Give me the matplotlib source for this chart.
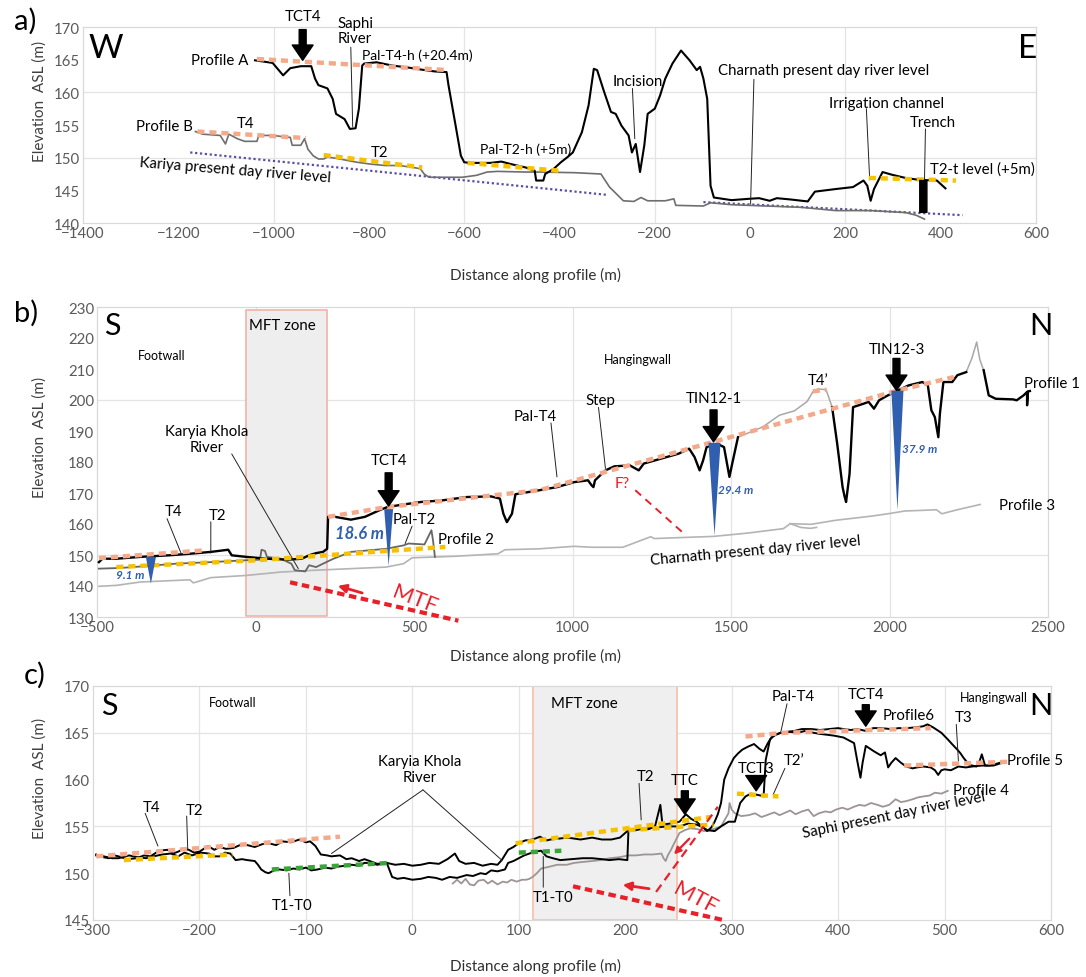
import numpy as np
import matplotlib.pyplot as plt

plt.rcParams['font.family'] = ['Lato', 'DejaVu Sans']

W, H = 1086, 978
FS = 10.8

SALMON = '#f5a98b'
YELLOW = '#f6c200'
GREEN = '#3aa63a'
RED = '#e8202a'
BLUE = '#2f5fae'
PURPLE = '#5a4ea6'

# ---------------------------------------------------------------- panel a data
a_profA_x = [-1039, -1002, -980, -965, -943, -921, -913, -906, -887, -876, -869, -851, -840, -828,
             -821, -814, -810, -784, -751, -718, -692, -662, -637, -633, -618, -607, -600, -589,
             -545, -522, -501, -471, -452, -449, -434, -430, -412, -397, -383, -372, -353, -339,
             -328, -321, -306, -292, -282, -270, -255, -248, -240, -231, -222, -215, -200, -189,
             -178, -163, -145, -127, -112, -105, -98, -90, -83, -76, -39, -3, 19, 41, 56, 85, 121,
             136, 180, 216, 238, 246, 253, 260, 278, 297, 326, 355, 392, 410]
a_profA_y = [164.9, 164.5, 162.6, 163.7, 164.0, 164.0, 162.1, 161.1, 160.6, 159.0, 156.7, 155.9, 154.4,
             154.5, 157.5, 164.1, 164.4, 164.6, 164.1, 163.8, 163.5, 163.2, 163.1, 161.1, 154.9, 150.3,
             149.3, 149.2, 149.2, 149.4, 149.0, 148.5, 148.0, 146.5, 146.5, 147.5, 148.3, 149.3, 150.1,
             150.8, 153.9, 158.0, 163.6, 163.4, 160.0, 157.0, 156.7, 154.9, 153.4, 150.8, 152.1, 147.8,
             151.9, 156.7, 157.5, 159.5, 162.1, 164.4, 166.4, 164.9, 163.4, 163.9, 162.1, 159.0, 145.7,
             143.9, 143.5, 143.7, 143.8, 143.4, 143.8, 143.6, 143.3, 144.8, 145.2, 145.5, 146.5, 145.7,
             143.4, 145.2, 147.8, 147.4, 146.9, 146.6, 146.5, 145.3]

a_profB_x = [-1164, -1149, -1112, -1101, -1094, -1076, -1061, -1035, -1031, -1002, -965, -961, -943,
             -935, -928, -917, -906, -895, -887, -869, -847, -825, -795, -766, -736, -707, -692, -684,
             -674, -633, -604, -574, -552, -530, -471, -441, -368, -313, -295, -266, -244, -229, -215,
             -178, -160, -156, -98, -83, -39, 34, 107, 180, 253, 326, 348, 366]
a_profB_y = [154.0, 153.6, 153.4, 152.1, 153.6, 152.9, 152.5, 152.5, 153.4, 153.4, 153.1, 151.9, 151.9,
             152.9, 151.3, 150.3, 149.8, 149.8, 150.1, 149.9, 149.6, 149.3, 149.0, 148.8, 148.8, 148.5,
             148.3, 147.5, 147.0, 147.0, 147.0, 147.3, 147.8, 147.9, 147.8, 147.8, 147.7, 147.5, 145.5,
             143.4, 143.3, 143.9, 143.4, 143.4, 143.7, 142.7, 142.6, 143.1, 142.8, 142.6, 142.4, 141.9,
             141.9, 141.6, 141.2, 140.6]

a_river_x = [[-1175, -299], [-98, 446]]
a_river_y = [[150.8, 144.3], [143.2, 141.2]]

a_salmon_x = [[-1035, -633], [-1160, -932]]
a_salmon_y = [[165.1, 163.4], [154.0, 153.0]]
a_yellow_x = [[-895, -688], [-593, -401], [249, 432]]
a_yellow_y = [[150.4, 148.5], [149.2, 148.0], [146.9, 146.5]]

a_trench_x = [355, 370]
a_trench_top = [146.6, 146.5]
a_trench_bot = [141.7, 141.7]

# ---------------------------------------------------------------- panel b data
b_p1_black_x = [[-494, -483, -439, -362, -273, -207, -141, -86, -75, -30, 36, 102, 146, 169, 191, 213,
                 226, 229, 240, 301, 345, 390, 417, 467, 522, 588, 666, 743, 771, 782, 793, 809, 820,
                 896, 951, 1005, 1049, 1060, 1066, 1071, 1104, 1132, 1181, 1209, 1225, 1280, 1335,
                 1368, 1385, 1401, 1412, 1423, 1456, 1478, 1495, 1506, 1522],
                [1819, 1835, 1852, 1858, 1863, 1874, 1885, 1918, 1934, 1951, 1967, 1995, 2027, 2060,
                 2104, 2121, 2132, 2143, 2154, 2159, 2170, 2198, 2214, 2242],
                [2297, 2313, 2335, 2390, 2401, 2423, 2434, 2434, 2437, 2443]]
b_p1_black_y = [[147.7, 148.8, 148.8, 149.4, 149.9, 150.4, 151.0, 151.7, 149.9, 149.4, 148.8, 148.5,
                 148.8, 149.9, 150.6, 151.0, 152.0, 162.3, 162.5, 161.4, 162.3, 164.4, 165.5, 166.3,
                 167.1, 167.6, 168.7, 168.9, 168.2, 163.3, 160.6, 163.3, 169.6, 170.9, 171.9, 173.5,
                 174.1, 172.5, 171.9, 174.1, 177.3, 178.6, 178.9, 177.3, 179.5, 181.1, 182.7, 184.3,
                 181.6, 177.3, 180.5, 184.8, 185.9, 184.8, 175.2, 180.5, 188.0],
                [197.7, 185.9, 171.9, 169.0, 167.1, 176.2, 197.7, 198.8, 199.4, 197.2, 199.9, 201.5,
                 203.1, 204.7, 205.8, 204.7, 196.7, 194.5, 188.0, 195.6, 205.8, 205.8, 208.0, 209.0],
                [209.6, 201.5, 200.4, 200.2, 199.9, 201.5, 202.6, 198.3, 202.8, 202.9]]
b_p1_grey_x = [[1522, 1600, 1653, 1700, 1740, 1758, 1775, 1800, 1819],
               [2242, 2260, 2275, 2285, 2297]]
b_p1_grey_y = [[188.0, 191.3, 195.1, 196.5, 199.5, 202.6, 203.6, 203.3, 197.7],
               [209.0, 213.5, 218.7, 213.0, 209.6]]

b_p2_x = [-494, -428, -362, -251, -141, -30, 14, 19, 30, 36, 80, 113, 124, 140, 157, 169, 191, 213,
          246, 301, 412, 467, 483, 533, 555, 560, 566]
b_p2_y = [145.6, 145.8, 146.3, 147.2, 147.7, 148.3, 148.5, 151.7, 151.3, 149.4, 148.8, 147.2, 145.1,
          144.9, 144.7, 146.7, 146.1, 147.2, 148.8, 151.0, 152.0, 153.1, 153.7, 153.4, 158.0, 154.7,
          149.4]

b_p3_x = [[-494, -439, -362, -251, -207, -196, -141, -30, 80, 191, 301, 412, 467, 494, 633, 765, 787,
           896, 1005, 1060, 1159, 1247, 1258, 1335, 1445, 1555, 1665, 1687, 1753, 1830, 1940, 1995,
           2049, 2104, 2148, 2165, 2214, 2286],
          [1687, 1720, 1750, 1770]]
b_p3_y = [[139.9, 140.2, 141.3, 141.8, 142.0, 141.0, 142.7, 143.4, 144.5, 145.1, 145.6, 146.1, 147.2,
           149.1, 149.6, 150.4, 151.7, 152.0, 152.8, 152.5, 152.5, 155.9, 155.3, 155.6, 156.0, 157.1,
           158.5, 160.1, 159.9, 161.2, 162.5, 163.3, 164.2, 164.4, 164.6, 163.3, 164.6, 166.3],
          [160.1, 158.9, 158.6, 158.9]]

b_salmon_x = [[-494, -160], [229, 417, 700, 896, 1445, 2027, 2203], [1758, 1802]]
b_salmon_y = [[149.0, 151.5], [162.3, 165.5, 168.7, 170.9, 186.5, 203.1, 207.4], [202.8, 203.3]]
b_yellow_x = [[-439, 3, 412, 599]]
b_yellow_y = [[146.1, 148.3, 151.3, 152.6]]

b_wedge_x = [-330, 420, 1448, 2025]
b_wedge_top = [149.4, 164.8, 186.2, 203.0]
b_wedge_bot = [140.8, 146.5, 156.3, 164.5]
b_wedge_hw = [16, 14, 19, 19]
b_wedge_lab = ['9.1 m', '18.6 m', '29.4 m', '37.9 m']

# ---------------------------------------------------------------- panel c data
c_lineA_x = [-297, -290, -285, -280, -276, -268, -259, -252, -246, -238, -230, -225, -220, -215, -210,
             -205, -200, -192, -186, -181, -175, -168, -162, -155, -148, -141, -135, -128, -122, -114,
             -106, -100, -96, -91, -86, -80, -76, -68, -62, -57, -50, -45, -40, -33, -24, -16, -8, 0,
             8, 16, 25, 33, 40, 44, 50, 58, 66, 74, 80, 84, 90, 95, 100, 106, 113, 120, 126, 130, 138,
             146, 158, 169, 178, 187, 195, 202, 208, 215, 222, 228, 233, 235, 242, 251, 257, 262, 267,
             272, 277, 281, 284, 287, 290, 293, 297, 302, 306, 310, 315, 321, 326, 330, 334, 338, 346,
             352, 359, 366, 375, 383, 392, 400, 405, 412, 418, 426, 433, 441, 449, 457, 465, 474, 480,
             484, 489, 493, 497, 503, 507, 512, 515, 518, 523, 526, 530, 533, 535, 538, 542, 546, 552,
             557]
c_lineA_y = [152.0, 151.7, 151.6, 151.9, 151.8, 151.5, 151.6, 151.9, 151.8, 152.4, 152.5, 152.1, 152.3,
             152.6, 152.5, 152.2, 152.3, 152.9, 152.5, 152.8, 152.6, 152.7, 153.0, 153.0, 152.8, 153.1,
             153.2, 153.0, 153.4, 153.3, 153.6, 153.3, 153.4, 152.9, 152.0, 151.9, 151.8, 151.9, 151.5,
             151.6, 151.3, 151.5, 151.3, 151.0, 151.1, 150.9, 151.0, 150.8, 150.9, 151.1, 151.0, 151.5,
             152.1, 151.3, 151.0, 151.1, 150.8, 151.0, 150.9, 151.4, 152.5, 152.8, 153.2, 153.5, 153.6,
             153.9, 153.5, 153.6, 153.7, 153.8, 153.6, 153.8, 153.6, 153.6, 153.8, 154.5, 154.6, 154.8,
             154.7, 155.0, 157.3, 155.2, 155.3, 155.5, 156.3, 155.8, 155.5, 155.0, 154.5, 154.9, 155.5,
             156.3, 157.5, 160.0, 161.2, 162.3, 162.8, 163.2, 163.5, 163.8, 163.3, 163.0, 163.9, 164.6,
             165.0, 165.1, 165.2, 165.4, 165.4, 165.3, 165.4, 165.5, 165.4, 165.3, 165.4, 165.2, 165.5,
             165.5, 165.4, 165.5, 165.5, 165.6, 165.7, 165.9, 165.6, 165.3, 165.0, 164.3, 163.8, 163.2,
             162.8, 162.3, 161.6, 161.5, 161.4, 162.0, 162.7, 161.5, 161.5, 161.6, 161.8, 161.9]

c_lineB_x = [-297, -290, -282, -276, -266, -258, -250, -243, -235, -227, -220, -214, -207, -199, -191,
             -186, -181, -176, -171, -166, -160, -155, -148, -145, -142, -138, -135, -130, -125, -118,
             -112, -106, -100, -95, -89, -82, -76, -70, -63, -57, -50, -45, -40, -33, -24, -19, -14, -8,
             0, 8, 15, 22, 28, 35, 42, 51, 57, 64, 69, 74, 80, 87, 90, 95, 100, 105, 110, 115, 121, 126,
             132, 139, 150, 160, 169, 178, 185, 194, 202, 203, 210, 218, 230, 240, 251, 259, 267, 273,
             277, 284, 290, 297, 303, 308, 313, 318, 323, 327, 330, 332, 336, 341, 346, 355, 362, 369,
             377, 382, 389, 396, 405, 410, 415, 418, 421, 423, 426, 430, 434, 440, 444, 447, 450, 454,
             459, 464, 470, 474, 480, 487, 491, 494, 497, 500, 506, 513, 520, 526, 535, 546, 557]
c_lineB_y = [151.9, 151.8, 151.6, 151.6, 151.9, 151.7, 151.6, 151.8, 152.0, 152.1, 151.8, 152.2, 151.9,
             152.2, 152.1, 151.8, 151.8, 152.2, 152.1, 151.4, 151.5, 151.4, 151.3, 150.9, 150.4, 150.1,
             150.0, 150.3, 150.4, 150.3, 150.5, 150.4, 150.6, 150.3, 150.4, 150.6, 150.5, 150.7, 150.8,
             150.9, 150.8, 151.1, 151.1, 150.9, 151.1, 149.6, 149.4, 149.5, 149.3, 149.4, 149.6, 149.5,
             149.3, 149.6, 149.5, 149.8, 149.7, 150.0, 149.9, 150.3, 150.2, 150.4, 151.1, 151.3, 151.6,
             151.9, 152.1, 152.3, 152.4, 151.8, 151.6, 151.4, 151.5, 151.6, 151.6, 151.5, 151.4, 151.5,
             151.4, 154.5, 154.6, 154.8, 154.9, 155.0, 155.0, 155.3, 155.2, 154.9, 154.6, 154.5, 155.0,
             155.5, 155.5, 157.5, 158.2, 158.5, 158.4, 158.3, 158.2, 162.1, 164.3, 164.8, 165.0, 165.1,
             165.0, 165.2, 165.0, 164.9, 164.8, 164.7, 164.5, 164.2, 163.9, 162.0, 160.2, 161.8, 163.6,
             163.3, 163.0, 162.6, 162.9, 161.3, 161.8, 162.3, 161.8, 161.4, 161.2, 161.3, 161.4, 161.3,
             161.0, 160.5, 161.0, 161.1, 161.0, 161.4, 161.3, 161.4, 161.5, 161.5, 161.9]

c_p4_x = [38, 42, 46, 50, 54, 58, 62, 67, 71, 75, 80, 85, 89, 93, 98, 103, 107, 110, 113, 117, 121, 129,
          136, 145, 152, 160, 169, 177, 185, 194, 203, 210, 218, 226, 234, 236, 238, 240, 243, 246, 251,
          256, 261, 268, 274, 280, 285, 290, 294, 297, 298, 300, 303, 309, 316, 322, 328, 333, 340, 345,
          349, 355, 360, 366, 372, 377, 382, 388, 393, 398, 404, 409, 415, 420, 425, 431, 437, 442, 448,
          454, 459, 464, 470, 475, 480, 486, 491, 497, 503]
c_p4_y = [148.9, 149.3, 148.9, 149.4, 148.8, 148.7, 149.2, 149.3, 148.9, 149.2, 148.8, 149.1, 149.0,
          149.3, 149.1, 149.3, 149.3, 149.4, 149.6, 150.0, 150.5, 150.7, 150.9, 150.9, 151.1, 151.2,
          151.3, 151.4, 151.6, 151.7, 151.9, 151.9, 152.0, 152.0, 152.1, 151.6, 151.3, 151.9, 152.5,
          153.2, 154.3, 154.6, 154.8, 154.7, 154.5, 154.6, 154.8, 155.0, 155.8, 156.4, 157.5, 156.8,
          156.4, 156.1, 156.2, 156.4, 156.0, 156.2, 156.5, 156.2, 156.4, 156.7, 156.3, 156.6, 156.8,
          156.1, 156.4, 156.6, 156.5, 156.8, 157.0, 156.8, 157.1, 157.3, 157.2, 157.5, 157.3, 157.1,
          157.3, 157.9, 157.6, 157.7, 157.9, 158.1, 158.2, 158.3, 158.6, 158.5, 158.8]

c_salmon_x = [[-297, -68], [313, 349, 487], [462, 559]]
c_salmon_y = [[151.8, 153.9], [164.6, 165.0, 165.5], [161.5, 161.9]]
c_yellow_x = [[-271, -169], [97, 280], [203, 283], [305, 344]]
c_yellow_y = [[151.4, 152.0], [153.2, 156.0], [154.6, 155.2], [158.5, 158.2]]
c_green_x = [[-132, -21], [100, 140]]
c_green_y = [[150.4, 151.1], [152.2, 152.4]]


def px(x):
    return x / W


def py(y):
    return 1 - y / H


def style(ax, xlim, ylim, xticks, yticks, xgrid, ygrid):
    ax.set_xlim(xlim)
    ax.set_ylim(ylim)
    ax.set_xticks(xticks)
    ax.set_yticks(yticks)
    for g in xgrid:
        ax.axvline(g, color='#e4e4e4', lw=0.9, zorder=0)
    for g in ygrid:
        ax.axhline(g, color='#e4e4e4', lw=0.9, zorder=0)
    ax.tick_params(length=0, labelsize=10.8, labelcolor='#5a5a5a', pad=2)
    for s in ax.spines.values():
        s.set_color('#d9d9d9')
        s.set_linewidth(0.9)


def terraces(ax, xs, ys, color):
    for x, y in zip(xs, ys):
        ax.plot(x, y, color=color, lw=3.2, dashes=(1.6, 1.1), zorder=4)


def arrow(ax, x, tip, tail, label, label_y, fs=FS):
    ax.annotate('', xy=(x, tip), xytext=(x, tail),
                arrowprops=dict(width=5, headwidth=15, headlength=11, facecolor='black',
                                edgecolor='black'), annotation_clip=False, zorder=6)
    ax.text(x, label_y, label, ha='center', va='bottom', fontsize=fs, clip_on=False)


def leader(ax, start, end):
    ax.annotate('', xy=end, xytext=start,
                arrowprops=dict(arrowstyle='-', lw=0.7, color='#222222', shrinkA=0, shrinkB=0))


fig = plt.figure(figsize=(W / 100, H / 100), dpi=100)

# ================================================================ panel a
ax = fig.add_axes([px(83), py(224), px(1036 - 83), (224 - 28) / H])
style(ax, (-1400, 600), (140, 170), np.arange(-1400, 601, 200), np.arange(140, 171, 5),
      [-1000, -600, -200, 200], [150, 160])
for x, y in zip(a_river_x, a_river_y):
    ax.plot(x, y, color=PURPLE, lw=1.6, ls=(0, (1, 1.2)), zorder=2)
ax.plot(a_profB_x, a_profB_y, color='#6e6e6e', lw=1.2, zorder=3)
ax.plot(a_profA_x, a_profA_y, color='black', lw=1.5, zorder=3)
terraces(ax, a_salmon_x, a_salmon_y, SALMON)
terraces(ax, a_yellow_x, a_yellow_y, YELLOW)
ax.fill_between(a_trench_x, a_trench_bot, a_trench_top, color='black', zorder=5)
arrow(ax, -939, 164.9, 169.6, 'TCT4', 170.6)

ax.text(-1388, 166.8, 'W', fontsize=24, va='center')
ax.text(562, 166.8, 'E', fontsize=24, va='center')
ax.text(-866, 167.2, 'Saphi\nRiver', fontsize=FS, va='bottom', linespacing=1.15, clip_on=False)
leader(ax, (-838, 166.9), (-834, 154.7))
ax.text(-1052, 164.9, 'Profile A', fontsize=FS, ha='right', va='center')
ax.text(-814, 165.7, 'Pal-T4-h (+20.4m)', fontsize=10, va='center')
ax.text(-1170, 154.8, 'Profile B', fontsize=FS, ha='right', va='center')
ax.text(-1059, 155.3, 'T4', fontsize=FS, ha='center', va='center')
ax.text(-778, 150.9, 'T2', fontsize=FS, ha='center', va='center')
ax.text(-1282, 149.4, 'Kariya present day river level', fontsize=FS, rotation=-4.6,
        rotation_mode='anchor', va='center')
ax.text(-567, 151.3, 'Pal-T2-h (+5m)', fontsize=10, va='center')
ax.text(-235, 161.8, 'Incision', fontsize=FS, ha='center', va='center')
leader(ax, (-247, 160.6), (-242, 152.9))
ax.text(154, 163.4, 'Charnath present day river level', fontsize=FS, ha='center', va='center')
leader(ax, (8, 162.0), (1, 142.9))
ax.text(286, 158.4, 'Irrigation channel', fontsize=FS, ha='center', va='center')
leader(ax, (244, 157.5), (251, 146.6))
ax.text(384, 155.5, 'Trench', fontsize=FS, ha='center', va='center')
leader(ax, (368, 154.4), (366, 146.7))
ax.text(377, 148.3, 'T2-t level (+5m)', fontsize=FS, va='center')

# ================================================================ panel b
ax = fig.add_axes([px(97), py(618), px(1048 - 97), (618 - 308) / H])
style(ax, (-500, 2500), (130, 230), np.arange(-500, 2501, 500), np.arange(130, 231, 10),
      [0, 500, 1000, 1500, 2000], [150, 200])
ax.fill_between([-30, 226], 130.3, 228.9, facecolor='#eeeeee', edgecolor='#f3b6ae', lw=1.3,
                zorder=1)
ax.text(86, 224.1, 'MFT zone', fontsize=FS, ha='center', va='center')
for x, y in zip(b_p3_x, b_p3_y):
    ax.plot(x, y, color='#b4b4b4', lw=1.2, zorder=2)
ax.plot(b_p2_x, b_p2_y, color='#666666', lw=1.3, zorder=3)
for x, y in zip(b_p1_grey_x, b_p1_grey_y):
    ax.plot(x, y, color='#a8a8a8', lw=1.1, zorder=3)
for x, y in zip(b_p1_black_x, b_p1_black_y):
    ax.plot(x, y, color='black', lw=1.7, zorder=3)
terraces(ax, b_salmon_x, b_salmon_y, SALMON)
terraces(ax, b_yellow_x, b_yellow_y, YELLOW)
for x, t, b, hw in zip(b_wedge_x, b_wedge_top, b_wedge_bot, b_wedge_hw):
    ax.fill([x - hw, x + hw, x], [t, t, b], color=BLUE, lw=0, zorder=5)
lab_pos = [(-395, 143.8, 8.5), (329, 157.2, 12), (1516, 171.1, 8.5), (2096, 184.3, 8.5)]
for lab, (lx, ly, fs) in zip(b_wedge_lab, lab_pos):
    ax.text(lx, ly, lab, color=BLUE, fontsize=fs, fontweight='bold', style='italic',
            ha='center', va='center')
arrow(ax, 420, 165.8, 176.5, 'TCT4', 178.3)
arrow(ax, 1445, 186.5, 196.8, 'TIN12-1', 198.3)
arrow(ax, 2022, 203.1, 213.4, 'TIN12-3', 214.2)

ax.text(-478, 224.1, 'S', fontsize=22, va='center')
ax.text(2440, 224.1, 'N', fontsize=22, va='center')
ax.text(-296, 214.4, 'Footwall', fontsize=9, ha='center', va='center')
ax.text(1207, 213.3, 'Hangingwall', fontsize=9, ha='center', va='center')
ax.text(-154, 187.3, 'Karyia Khola\nRiver', fontsize=FS, ha='center', va='center',
        linespacing=1.2)
leader(ax, (-75, 182.6), (135, 145.6))
ax.text(-260, 164.2, 'T4', fontsize=FS, ha='center', va='center')
leader(ax, (-279, 161.7), (-235, 150.6))
ax.text(-121, 162.9, 'T2', fontsize=FS, ha='center', va='center')
leader(ax, (-141, 160.7), (-141, 150.6))
ax.text(500, 161.7, 'Pal-T2', fontsize=FS, ha='center', va='center')
leader(ax, (494, 159.3), (472, 153.7))
ax.text(577, 155.3, 'Profile 2', fontsize=FS, va='center')
ax.text(881, 194.8, 'Pal-T4', fontsize=FS, ha='center', va='center')
leader(ax, (932, 192.6), (951, 175.2))
ax.text(1088, 199.9, 'Step', fontsize=FS, ha='center', va='center')
leader(ax, (1082, 197.6), (1104, 177.9))
ax.text(1775, 206.3, "T4\u2019", fontsize=FS, ha='center', va='center')
ax.text(2423, 205.5, 'Profile 1', fontsize=FS, va='center')
ax.text(2434, 166.0, 'Profile 3', fontsize=FS, ha='center', va='center')
ax.text(1577, 151.6, 'Charnath present day river level', fontsize=FS, ha='center',
        va='center', rotation=5.4)
# faults
ax.plot([109, 640], [141.2, 128.8], color=RED, lw=3, dashes=(1.8, 1.1), clip_on=False, zorder=4)
ax.annotate('', xy=(251, 140.3), xytext=(345, 137.5),
            arrowprops=dict(arrowstyle='-|>', color=RED, lw=2, mutation_scale=12))
ax.text(503, 135.9, 'MTF', color=RED, fontsize=16, rotation=-21, ha='center', va='center')
ax.plot([1198, 1346], [170.9, 157.4], color=RED, lw=1.4, dashes=(4, 3), zorder=4)
ax.text(1157, 173.2, 'F?', color=RED, fontsize=FS, ha='center', va='center')

# ================================================================ panel c
ax = fig.add_axes([px(93), py(921), px(1051 - 93), (921 - 687) / H])
style(ax, (-300, 600), (145, 170), np.arange(-300, 601, 100), np.arange(145, 171, 5),
      np.arange(-200, 600, 100), [155, 165])
ax.fill_between([113, 248.5], 145.05, 169.95, facecolor='#efefef', edgecolor='#f7c4ad', lw=1.3,
                zorder=1)
ax.text(162, 168.2, 'MFT zone', fontsize=FS, ha='center', va='center')
ax.plot(c_p4_x, c_p4_y, color='#9d9595', lw=1.3, zorder=2)
ax.plot(c_lineB_x, c_lineB_y, color='black', lw=1.4, zorder=3)
ax.plot(c_lineA_x, c_lineA_y, color='black', lw=1.4, zorder=3)
terraces(ax, c_salmon_x, c_salmon_y, SALMON)
terraces(ax, c_yellow_x, c_yellow_y, YELLOW)
terraces(ax, c_green_x, c_green_y, GREEN)
arrow(ax, 256, 156.3, 158.8, 'TTC', 159.2)
arrow(ax, 323, 158.8, 160.2, 'TCT3', 160.5)
arrow(ax, 426, 165.7, 168.0, 'TCT4', 168.4)

ax.text(-292, 168.0, 'S', fontsize=22, va='center')
ax.text(580, 168.0, 'N', fontsize=22, va='center')
ax.text(-169, 168.3, 'Footwall', fontsize=9, ha='center', va='center')
ax.text(546, 168.8, 'Hangingwall', fontsize=9, ha='center', va='center')
ax.text(-245, 157.1, 'T4', fontsize=FS, ha='center', va='center')
leader(ax, (-251, 156.4), (-239, 152.9))
ax.text(-205, 156.7, 'T2', fontsize=FS, ha='center', va='center')
leader(ax, (-212, 156.1), (-211, 152.5))
ax.text(7, 161.1, 'Karyia Khola\nRiver', fontsize=FS, ha='center', va='center',
        linespacing=1.2)
leader(ax, (10, 158.9), (-76, 152.1))
leader(ax, (10, 158.9), (84, 151.4))
ax.text(-113, 146.6, 'T1-T0', fontsize=FS, ha='center', va='center')
leader(ax, (-116, 150.0), (-115, 147.6))
ax.text(132, 147.5, 'T1-T0', fontsize=FS, ha='center', va='center')
leader(ax, (123, 151.8), (123, 148.5))
ax.text(219, 160.4, 'T2', fontsize=FS, ha='center', va='center')
leader(ax, (213, 159.6), (215, 155.7))
ax.text(358, 168.9, 'Pal-T4', fontsize=FS, ha='center', va='center')
leader(ax, (352, 168.1), (346, 165.0))
ax.text(466, 166.9, 'Profile6', fontsize=FS, ha='center', va='center')
ax.text(518, 166.7, 'T3', fontsize=FS, ha='center', va='center')
leader(ax, (511, 165.9), (513, 162.0))
ax.text(359, 162.1, "T2\u2019", fontsize=FS, ha='center', va='center')
leader(ax, (350, 161.2), (339, 158.4))
ax.text(559, 162.1, 'Profile 5', fontsize=FS, va='center')
ax.text(508, 158.9, 'Profile 4', fontsize=FS, va='center')
ax.text(452, 156.3, 'Saphi present day river level', fontsize=FS, ha='center', va='center',
        rotation=11.5)
# faults
ax.plot([151, 292], [148.6, 145.0], color=RED, lw=3, dashes=(1.8, 1.1), clip_on=False, zorder=4)
ax.plot([229, 287], [148.0, 157.1], color=RED, lw=1.6, dashes=(4, 2.5), zorder=4)
ax.annotate('', xy=(195, 148.8), xytext=(225, 148.3),
            arrowprops=dict(arrowstyle='-|>', color=RED, lw=2, mutation_scale=12))
ax.annotate('', xy=(244, 151.8), xytext=(262, 153.9),
            arrowprops=dict(arrowstyle='-|>', color=RED, lw=1.6, mutation_scale=10))
ax.text(266, 147.4, 'MTF', color=RED, fontsize=16, rotation=-28, ha='center', va='center')

# ================================================================ figure labels
for lab, (x, y) in zip(['a)', 'b)', 'c)'], [(14, 21), (14, 313), (24, 675)]):
    fig.text(px(x), py(y), lab, fontsize=21, va='center')
for y in [101, 437, 778]:
    fig.text(px(40), py(y), 'Elevation  ASL (m)', fontsize=11, rotation=90, color='#404040',
             ha='center', va='center')
for y in [275, 656, 966]:
    fig.text(px(536), py(y), 'Distance along profile (m)', fontsize=11, color='#303030',
             ha='center', va='center')

fig.savefig('out.png', dpi=100)
